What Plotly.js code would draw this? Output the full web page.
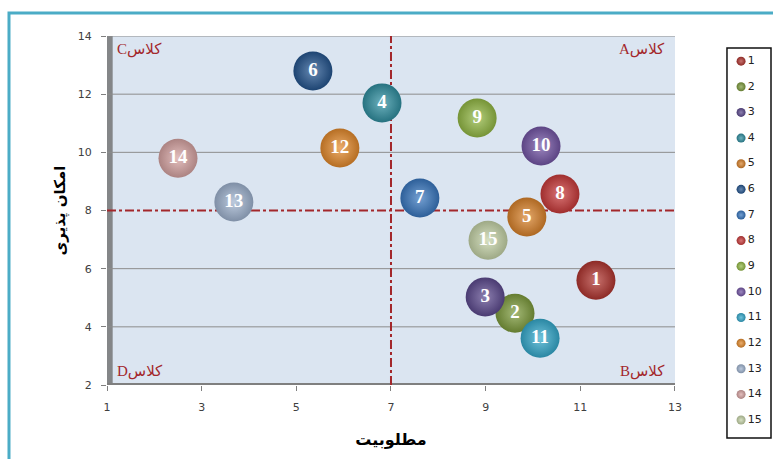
<!DOCTYPE html>
<html>
<head>
<meta charset="utf-8">
<script src="https://cdn.plot.ly/plotly-3.0.1.min.js"></script>
<style>html,body{margin:0;padding:0;background:#fff;}#chart{width:773px;height:459px;}</style>
</head>
<body>
<div id="chart"></div>
<script>
// ---- data ----
const ids = ['1','2','3','4','5','6','7','8','9','10','11','12','13','14','15'];
const desirability = [11.33, 9.62, 8.99, 6.81, 9.87, 5.35, 7.61, 10.57, 8.82, 10.17, 10.15, 5.92, 3.68, 2.50, 9.05]; // مطلوبیت
const feasibility  = [5.60, 4.47, 5.03, 11.70, 7.78, 12.80, 8.43, 8.57, 11.18, 10.22, 3.61, 10.15, 8.29, 9.80, 6.98]; // امکان پذیری
const colors = ['#b03530','#7d9b3c','#5c4a8e','#2f8fa0','#d9822b','#24558f','#3877bf','#c83a3a','#93b945','#7355a5','#34a9cc','#e48a2c','#9fb3cf','#d7a4a2','#c5d3a8'];
const xTicks = [1,3,5,7,9,11,13];
const yTicks = [2,4,6,8,10,12,14];
const gridValues = [4,6,10,12,14];
const xThreshold = 7;
const yThreshold = 8;
const quadrantLabels = ['Cکلاس','Aکلاس','Dکلاس','Bکلاس'];
const xTitle = 'مطلوبیت';
const yTitle = 'امکان پذیری';

// ---- helpers for the sphere look ----
function mix(hex, target, t){
  const h = hex.replace('#','');
  const r = parseInt(h.substr(0,2),16), g = parseInt(h.substr(2,2),16), b = parseInt(h.substr(4,2),16);
  const m = v => Math.round(v + (target - v) * t);
  return 'rgb(' + m(r) + ',' + m(g) + ',' + m(b) + ')';
}
const edgeColors = colors.map(c => mix(c, 0, 0.2));
const centerColors = colors.map(c => mix(c, 255, 0.3));
const legendIndex = ids.map((_, i) => i + 1);

const bubbles = {
  type: 'scatter', mode: 'markers+text',
  x: desirability, y: feasibility, text: ids,
  textposition: 'middle center',
  textfont: {family: 'Liberation Serif, serif', size: 19, color: '#ffffff', weight: 'bold'},
  marker: {size: 39, color: edgeColors, line: {width: 0},
           gradient: {type: 'radial', color: centerColors}},
  hoverinfo: 'x+y+text', showlegend: false, xaxis: 'x', yaxis: 'y'
};

const legendTrace = {
  type: 'scatter', mode: 'markers+text',
  x: ids.map(() => 0.32), y: legendIndex, text: ids,
  textposition: 'middle right',
  textfont: {family: 'DejaVu Sans, sans-serif', size: 11, color: '#222'},
  marker: {size: 9, color: edgeColors, line: {width: 0},
           gradient: {type: 'radial', color: centerColors}},
  hoverinfo: 'skip', showlegend: false, xaxis: 'x2', yaxis: 'y2', cliponaxis: false
};

const red = '#a3272b';
const shapes = [
  // outer frame
  {type: 'rect', xref: 'paper', yref: 'paper', x0: -0.1476, x1: 1.05, y0: -0.1, y1: 1.057,
   line: {color: '#4bacc6', width: 3}, fillcolor: 'rgba(0,0,0,0)', layer: 'below'},
  // left wall
  {type: 'rect', xref: 'x', yref: 'y', x0: 0.96, x1: 1.12, y0: 1.95, y1: 14,
   line: {width: 0}, fillcolor: 'rgba(110,110,110,0.8)', layer: 'below'},
  // floor
  {type: 'line', xref: 'x', yref: 'y', x0: 0.96, x1: 13, y0: 2, y1: 2,
   line: {color: '#7f7f7f', width: 4}, layer: 'below'}
];
gridValues.forEach(v => shapes.push({type: 'line', xref: 'x', yref: 'y', x0: 1, x1: 13, y0: v, y1: v,
  line: {color: '#8c8c8c', width: 1}, layer: 'below'}));
shapes.push(
  {type: 'line', xref: 'x', yref: 'y', x0: 1, x1: 13, y0: yThreshold, y1: yThreshold,
   line: {color: red, width: 2, dash: 'dashdot'}, layer: 'below'},
  {type: 'line', xref: 'x', yref: 'y', x0: xThreshold, x1: xThreshold, y0: 2, y1: 14.15,
   line: {color: red, width: 2, dash: 'dashdot'}, layer: 'below'},
  {type: 'rect', xref: 'x2 domain', yref: 'y2 domain', x0: 0, x1: 1, y0: 0, y1: 1,
   line: {color: '#111', width: 1.5}, fillcolor: '#ffffff', layer: 'below'}
);

const labelFont = {family: 'Liberation Serif, DejaVu Sans, serif', size: 15, color: red};
const layout = {
  width: 773, height: 459,
  margin: {l: 107, r: 2, t: 36, b: 20},
  paper_bgcolor: '#ffffff', plot_bgcolor: '#dbe5f1',
  showlegend: false,
  font: {family: 'DejaVu Sans, sans-serif'},
  xaxis: {
    domain: [0, 0.8554], range: [1, 13], tickvals: xTicks, ticktext: xTicks.map(String),
    showgrid: false, zeroline: false, showline: false,
    ticks: 'outside', ticklen: 5, tickcolor: '#7f7f7f', ticklabelstandoff: 7,
    tickfont: {family: 'DejaVu Sans, sans-serif', size: 11, color: '#404040'},
    title: {text: xTitle, font: {family: 'DejaVu Sans, sans-serif', size: 16, color: '#000', weight: 'bold'}, standoff: 20},
    fixedrange: true
  },
  yaxis: {
    domain: [0.134, 1], range: [2, 14], tickvals: yTicks, ticktext: yTicks.map(String),
    showgrid: false, zeroline: false, showline: false,
    ticks: 'outside', ticklen: 5, tickcolor: '#7f7f7f', ticklabelstandoff: 7,
    tickfont: {family: 'DejaVu Sans, sans-serif', size: 11, color: '#404040'},
    title: {text: yTitle, font: {family: 'DejaVu Sans, sans-serif', size: 15, color: '#000', weight: 'bold'}, standoff: 8},
    fixedrange: true
  },
  xaxis2: {domain: [0.9337, 1.0], range: [0, 1], anchor: 'y2', visible: false, fixedrange: true},
  yaxis2: {domain: [0.0025, 0.970], range: [15.70, 0.49], anchor: 'x2', visible: false, fixedrange: true},
  shapes: shapes,
  annotations: [
    {xref: 'x', yref: 'y', x: 1.17, y: 13.52, text: quadrantLabels[0], showarrow: false, xanchor: 'left', yanchor: 'middle', font: labelFont},
    {xref: 'x', yref: 'y', x: 12.83, y: 13.52, text: quadrantLabels[1], showarrow: false, xanchor: 'right', yanchor: 'middle', font: labelFont},
    {xref: 'x', yref: 'y', x: 1.17, y: 2.45, text: quadrantLabels[2], showarrow: false, xanchor: 'left', yanchor: 'middle', font: labelFont},
    {xref: 'x', yref: 'y', x: 12.83, y: 2.45, text: quadrantLabels[3], showarrow: false, xanchor: 'right', yanchor: 'middle', font: labelFont}
  ]
};

Plotly.newPlot('chart', [bubbles, legendTrace], layout, {displayModeBar: false, staticPlot: true});
</script>
</body>
</html>
